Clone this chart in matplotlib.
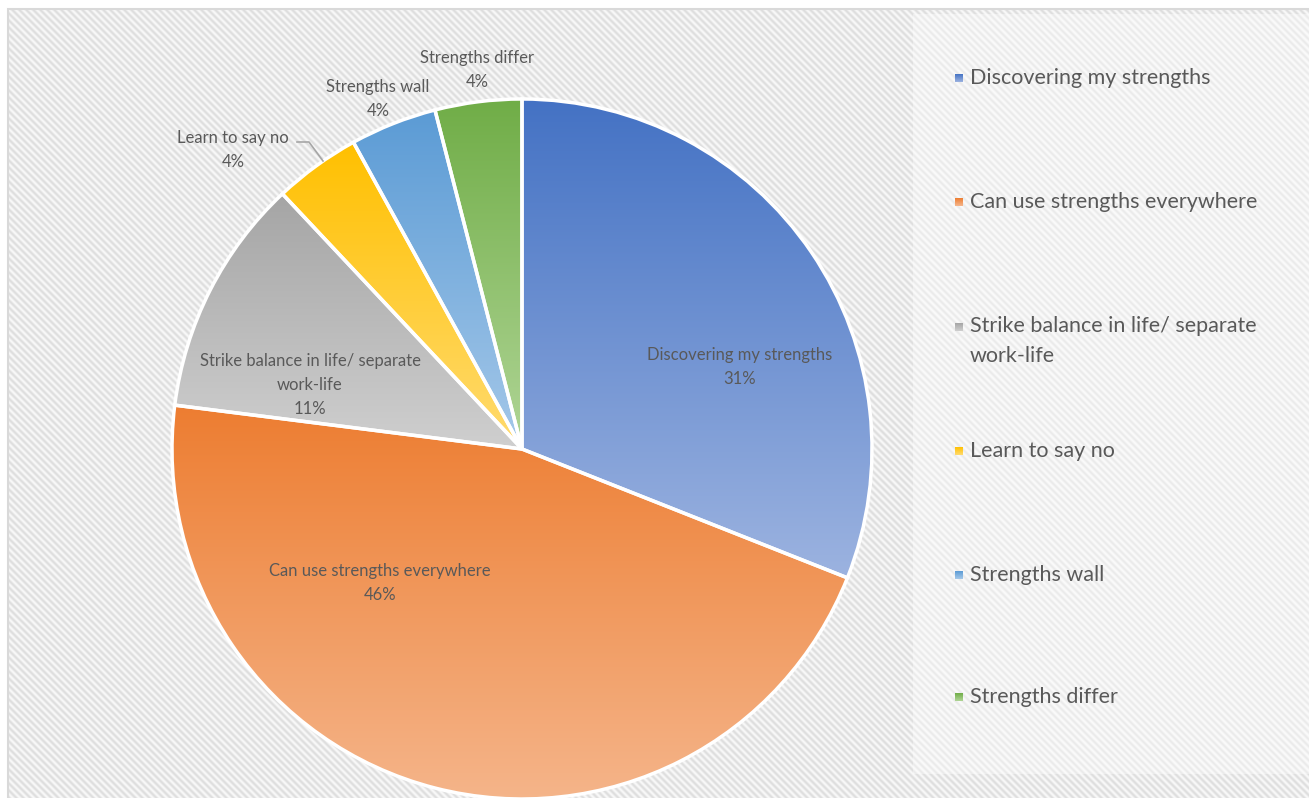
import matplotlib.pyplot as plt
import numpy as np
from matplotlib.colors import to_rgb
from matplotlib.patches import Rectangle

plt.rcParams['font.family'] = ['Lato', 'DejaVu Sans']

# Survey answers
categories = [
    "Discovering my strengths",
    "Can use strengths everywhere",
    "Strike balance in life/ separate\nwork-life",
    "Learn to say no",
    "Strengths wall",
    "Strengths differ",
]
shares = [31, 46, 11, 4, 4, 4]

# top / bottom colour of each slice gradient
top_colors = ["#4472C4", "#ED7D31", "#A5A5A5", "#FFC000", "#5B9BD5", "#70AD47"]
bottom_colors = ["#9CB3E0", "#F5B68C", "#CFCFCF", "#FFDB70", "#A5C8E9", "#B0D596"]

W, H = 1309, 798
TEXT = "#595959"


def gradient_image(c_top, c_bottom, n=256):
    t = np.linspace(0, 1, n)[:, None]
    a, b = np.array(to_rgb(c_top)), np.array(to_rgb(c_bottom))
    return (a * (1 - t) + b * t)[:, None, :]


fig = plt.figure(figsize=(W / 100, H / 100), dpi=100)
ax = fig.add_axes([0, 0, 1, 1])

# striped chart background
yy, xx = np.mgrid[0:H - 9, 0:W - 8]
stripes = 0.5 + 0.5 * np.cos(2 * np.pi * (xx - yy) / 7.0)
light, dark = np.array(to_rgb("#F8F8F8")), np.array(to_rgb("#DEDEDE"))
bg = light * stripes[..., None] + dark * (1 - stripes[..., None])
ax.imshow(bg, extent=[8, W, 0, H - 9], origin="upper", zorder=0, interpolation="nearest")
ax.add_patch(Rectangle((7.5, -2), W, H - 9 + 2, fill=False, edgecolor="#D9D9D9", lw=1.5, zorder=1))

# lighter legend panel
ax.add_patch(Rectangle((913, 24), W - 913, H - 14 - 24, facecolor="white", alpha=0.4, lw=0, zorder=1))

cx, cy, r = 522, H - 449, 350
wedges, _ = ax.pie(shares, startangle=90, counterclock=False, center=(cx, cy), radius=r,
                   wedgeprops=dict(edgecolor="white", linewidth=2.5))

for w, c0, c1 in zip(wedges, top_colors, bottom_colors):
    w.set_facecolor("none")
    w.set_zorder(3)
    v = w.get_path().vertices
    x0, x1 = v[:, 0].min(), v[:, 0].max()
    y0, y1 = v[:, 1].min(), v[:, 1].max()
    im = ax.imshow(gradient_image(c0, c1), extent=[x0, x1, y0, y1], origin="upper",
                   aspect="auto", zorder=2, interpolation="bilinear")
    im.set_clip_path(w)

ax.set_xlim(0, W)
ax.set_ylim(0, H)
ax.set_aspect("auto")
ax.axis("off")

# slice labels
labels = [f"{c}\n{s}%" for c, s in zip(categories, shares)]
label_pos = [(740, 367), (380, 583), (310, 385), (233, 150), (378, 99), (477, 70)]
for txt, (px, py) in zip(labels, label_pos):
    ax.text(px, H - py, txt, ha="center", va="center", fontsize=12, color=TEXT,
            linespacing=1.62, zorder=5)

# leader line for the small yellow slice
ax.plot([297, 309, 323], [H - 142, H - 142, H - 161], color="#A6A6A6", lw=1.2, zorder=4)

# legend
legend_y = [78, 202, 327, 451, 575, 697]
for name, c0, c1, ly in zip(categories, top_colors, bottom_colors, legend_y):
    ax.imshow(gradient_image(c0, c1), extent=[955, 963, H - ly - 4, H - ly + 4], origin="upper",
              aspect="auto", zorder=5)
    ty = ly + 14 if "\n" in name else ly
    ax.text(970, H - ty, name, ha="left", va="center",
            fontsize=15.5, color=TEXT, linespacing=1.62, zorder=5)

ax.set_xlim(0, W)
ax.set_ylim(0, H)
fig.savefig("out.png", dpi=100)
